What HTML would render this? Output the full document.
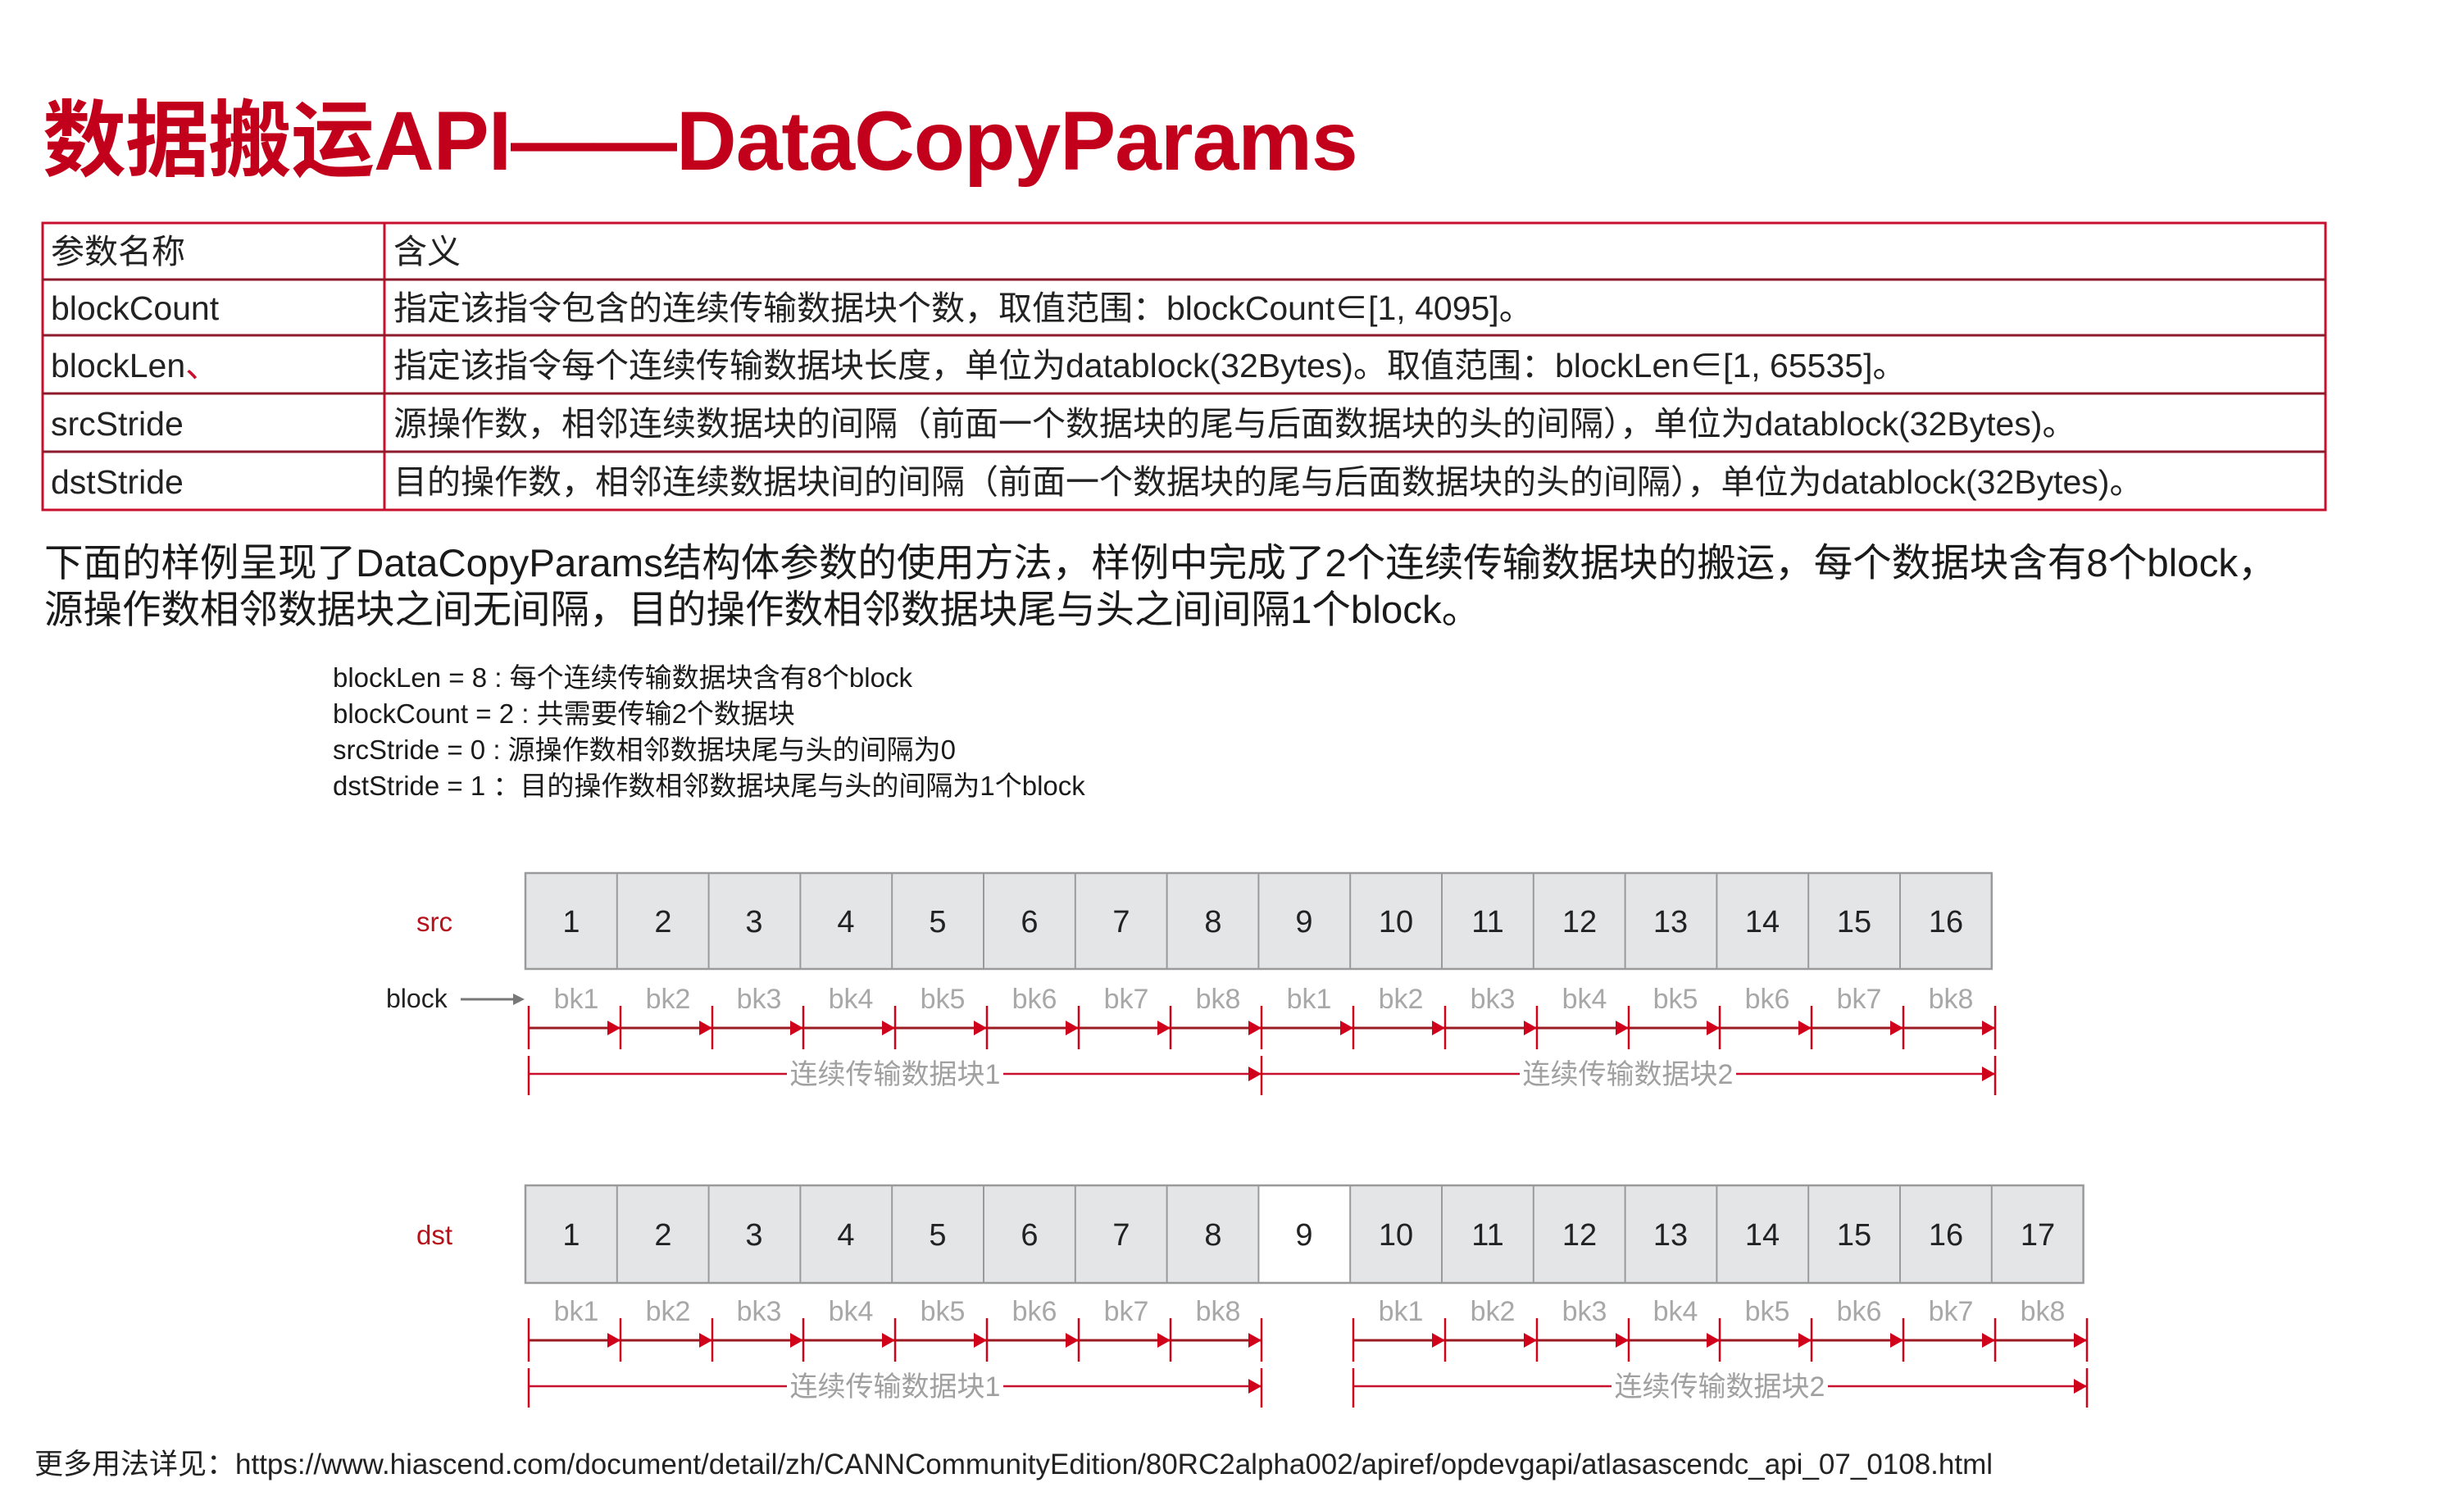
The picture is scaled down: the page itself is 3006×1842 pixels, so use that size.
<!DOCTYPE html>
<html><head><meta charset="utf-8"><style>
html,body{margin:0;padding:0;background:#fff;}
body{width:3006px;height:1842px;position:relative;overflow:hidden;font-family:"Liberation Sans","Noto Sans CJK SC",sans-serif;}
.t{position:absolute;white-space:nowrap;}
</style></head><body>
<div class="t" style="left:52px;top:90px;font-size:102px;font-weight:bold;color:#c3001b;letter-spacing:-1px;">数据搬运API——DataCopyParams</div>

<svg width="3006" height="1842" style="position:absolute;left:0;top:0" xmlns="http://www.w3.org/2000/svg" font-family="Liberation Sans, Noto Sans CJK SC, sans-serif">
<g stroke="#c8102e" stroke-width="3" fill="none">
<rect x="52" y="272" width="2785" height="350"/>
<line x1="469" y1="272" x2="469" y2="622"/>
</g>
<g stroke="#8e1a2c" stroke-width="3">
<line x1="52" y1="341" x2="2837" y2="341"/>
<line x1="52" y1="409" x2="2837" y2="409"/>
<line x1="52" y1="480" x2="2837" y2="480"/>
<line x1="52" y1="551" x2="2837" y2="551"/>
</g>
<g font-size="41" fill="#222">
<text x="62" y="321">参数名称</text><text x="480" y="321">含义</text>
<text x="62" y="390">blockCount</text><text x="480" y="390">指定该指令包含的连续传输数据块个数，取值范围：blockCount∈[1, 4095]。</text>
<text x="62" y="460">blockLen<tspan fill="#c8102e">、</tspan></text><text x="480" y="460">指定该指令每个连续传输数据块长度，单位为datablock(32Bytes)。取值范围：blockLen∈[1, 65535]。</text>
<text x="62" y="531">srcStride</text><text x="480" y="531">源操作数，相邻连续数据块的间隔（前面一个数据块的尾与后面数据块的头的间隔），单位为datablock(32Bytes)。</text>
<text x="62" y="602">dstStride</text><text x="480" y="602">目的操作数，相邻连续数据块间的间隔（前面一个数据块的尾与后面数据块的头的间隔），单位为datablock(32Bytes)。</text>
</g>
<g font-size="47.5" fill="#1a1a1a">
<text x="54" y="703">下面的样例呈现了DataCopyParams结构体参数的使用方法，样例中完成了2个连续传输数据块的搬运，每个数据块含有8个block，</text>
<text x="54" y="760">源操作数相邻数据块之间无间隔，目的操作数相邻数据块尾与头之间间隔1个block。</text>
</g>
<g font-size="33" fill="#1a1a1a">
<text x="406" y="838">blockLen = 8 : 每个连续传输数据块含有8个block</text>
<text x="406" y="882">blockCount = 2 : 共需要传输2个数据块</text>
<text x="406" y="926">srcStride = 0 : 源操作数相邻数据块尾与头的间隔为0</text>
<text x="406" y="970">dstStride = 1  ：目的操作数相邻数据块尾与头的间隔为1个block</text>
</g>

<text x="530" y="1136" font-size="33" fill="#b5121b" text-anchor="middle">src</text>
<text x="530" y="1518" font-size="33" fill="#b5121b" text-anchor="middle">dst</text>
<text x="471" y="1229" font-size="32" fill="#222">block</text>
<line x1="562" y1="1219" x2="628" y2="1219" stroke="#777" stroke-width="3"/>
<polygon points="640,1219 626,1212 626,1226" fill="#777"/>

<rect x="641" y="1065" width="1788.8" height="117" fill="#e4e5e7" stroke="#9a9a9a" stroke-width="2.5"/>
<g stroke="#9a9a9a" stroke-width="2">
<line x1="752.8" y1="1065" x2="752.8" y2="1182"/><line x1="864.6" y1="1065" x2="864.6" y2="1182"/><line x1="976.4" y1="1065" x2="976.4" y2="1182"/><line x1="1088.2" y1="1065" x2="1088.2" y2="1182"/><line x1="1200" y1="1065" x2="1200" y2="1182"/><line x1="1311.8" y1="1065" x2="1311.8" y2="1182"/><line x1="1423.6" y1="1065" x2="1423.6" y2="1182"/><line x1="1535.4" y1="1065" x2="1535.4" y2="1182"/><line x1="1647.2" y1="1065" x2="1647.2" y2="1182"/><line x1="1759" y1="1065" x2="1759" y2="1182"/><line x1="1870.8" y1="1065" x2="1870.8" y2="1182"/><line x1="1982.6" y1="1065" x2="1982.6" y2="1182"/><line x1="2094.4" y1="1065" x2="2094.4" y2="1182"/><line x1="2206.2" y1="1065" x2="2206.2" y2="1182"/><line x1="2318" y1="1065" x2="2318" y2="1182"/>
</g>
<g font-size="38" fill="#222" text-anchor="middle">
<text x="697" y="1137">1</text><text x="809" y="1137">2</text><text x="920" y="1137">3</text><text x="1032" y="1137">4</text><text x="1144" y="1137">5</text><text x="1256" y="1137">6</text><text x="1368" y="1137">7</text><text x="1480" y="1137">8</text><text x="1591" y="1137">9</text><text x="1703" y="1137">10</text><text x="1815" y="1137">11</text><text x="1927" y="1137">12</text><text x="2038" y="1137">13</text><text x="2150" y="1137">14</text><text x="2262" y="1137">15</text><text x="2374" y="1137">16</text>
</g>
<g font-size="34" fill="#a8a8a8" text-anchor="middle">
<text x="703" y="1230">bk1</text><text x="815" y="1230">bk2</text><text x="926" y="1230">bk3</text><text x="1038" y="1230">bk4</text><text x="1150" y="1230">bk5</text><text x="1262" y="1230">bk6</text><text x="1374" y="1230">bk7</text><text x="1486" y="1230">bk8</text><text x="1597" y="1230">bk1</text><text x="1709" y="1230">bk2</text><text x="1821" y="1230">bk3</text><text x="1933" y="1230">bk4</text><text x="2044" y="1230">bk5</text><text x="2156" y="1230">bk6</text><text x="2268" y="1230">bk7</text><text x="2380" y="1230">bk8</text>
</g>
<line x1="645" y1="1254" x2="2434" y2="1254" stroke="#9b1b22" stroke-width="3"/>
<g stroke="#d0021b" stroke-width="2.5">
<line x1="645" y1="1227" x2="645" y2="1280"/><line x1="757" y1="1227" x2="757" y2="1280"/><line x1="869" y1="1227" x2="869" y2="1280"/><line x1="980" y1="1227" x2="980" y2="1280"/><line x1="1092" y1="1227" x2="1092" y2="1280"/><line x1="1204" y1="1227" x2="1204" y2="1280"/><line x1="1316" y1="1227" x2="1316" y2="1280"/><line x1="1428" y1="1227" x2="1428" y2="1280"/><line x1="1539" y1="1227" x2="1539" y2="1280"/><line x1="1651" y1="1227" x2="1651" y2="1280"/><line x1="1763" y1="1227" x2="1763" y2="1280"/><line x1="1875" y1="1227" x2="1875" y2="1280"/><line x1="1987" y1="1227" x2="1987" y2="1280"/><line x1="2098" y1="1227" x2="2098" y2="1280"/><line x1="2210" y1="1227" x2="2210" y2="1280"/><line x1="2322" y1="1227" x2="2322" y2="1280"/><line x1="2434" y1="1227" x2="2434" y2="1280"/>
</g>
<g fill="#d0021b">
<polygon points="757,1254 741,1245 741,1263"/><polygon points="869,1254 853,1245 853,1263"/><polygon points="980,1254 964,1245 964,1263"/><polygon points="1092,1254 1076,1245 1076,1263"/><polygon points="1204,1254 1188,1245 1188,1263"/><polygon points="1316,1254 1300,1245 1300,1263"/><polygon points="1428,1254 1412,1245 1412,1263"/><polygon points="1539,1254 1523,1245 1523,1263"/><polygon points="1651,1254 1635,1245 1635,1263"/><polygon points="1763,1254 1747,1245 1747,1263"/><polygon points="1875,1254 1859,1245 1859,1263"/><polygon points="1987,1254 1971,1245 1971,1263"/><polygon points="2098,1254 2082,1245 2082,1263"/><polygon points="2210,1254 2194,1245 2194,1263"/><polygon points="2322,1254 2306,1245 2306,1263"/><polygon points="2434,1254 2418,1245 2418,1263"/>
</g>
<line x1="645" y1="1310" x2="2434" y2="1310" stroke="#c8102e" stroke-width="2.5"/>
<g stroke="#d0021b" stroke-width="2.5">
<line x1="645" y1="1288" x2="645" y2="1336"/><line x1="1539" y1="1288" x2="1539" y2="1336"/><line x1="2434" y1="1288" x2="2434" y2="1336"/>
</g>
<g fill="#d0021b"><polygon points="1539,1310 1523,1301 1523,1319"/><polygon points="2434,1310 2418,1301 2418,1319"/></g>
<rect x="960" y="1290" width="264" height="40" fill="#fff"/>
<rect x="1854" y="1290" width="264" height="40" fill="#fff"/>
<g font-size="34" fill="#a0a0a0" text-anchor="middle">
<text x="1092" y="1322">连续传输数据块1</text><text x="1986" y="1322">连续传输数据块2</text>
</g>

<rect x="641" y="1446" width="1900.6" height="119" fill="#e4e5e7" stroke="#9a9a9a" stroke-width="2.5"/>
<rect x="1535.4" y="1447.5" width="111.8" height="116" fill="#fff"/>
<g stroke="#9a9a9a" stroke-width="2">
<line x1="752.8" y1="1446" x2="752.8" y2="1565"/><line x1="864.6" y1="1446" x2="864.6" y2="1565"/><line x1="976.4" y1="1446" x2="976.4" y2="1565"/><line x1="1088.2" y1="1446" x2="1088.2" y2="1565"/><line x1="1200" y1="1446" x2="1200" y2="1565"/><line x1="1311.8" y1="1446" x2="1311.8" y2="1565"/><line x1="1423.6" y1="1446" x2="1423.6" y2="1565"/><line x1="1535.4" y1="1446" x2="1535.4" y2="1565"/><line x1="1647.2" y1="1446" x2="1647.2" y2="1565"/><line x1="1759" y1="1446" x2="1759" y2="1565"/><line x1="1870.8" y1="1446" x2="1870.8" y2="1565"/><line x1="1982.6" y1="1446" x2="1982.6" y2="1565"/><line x1="2094.4" y1="1446" x2="2094.4" y2="1565"/><line x1="2206.2" y1="1446" x2="2206.2" y2="1565"/><line x1="2318" y1="1446" x2="2318" y2="1565"/><line x1="2429.8" y1="1446" x2="2429.8" y2="1565"/>
</g>
<g font-size="38" fill="#222" text-anchor="middle">
<text x="697" y="1519">1</text><text x="809" y="1519">2</text><text x="920" y="1519">3</text><text x="1032" y="1519">4</text><text x="1144" y="1519">5</text><text x="1256" y="1519">6</text><text x="1368" y="1519">7</text><text x="1480" y="1519">8</text><text x="1591" y="1519">9</text><text x="1703" y="1519">10</text><text x="1815" y="1519">11</text><text x="1927" y="1519">12</text><text x="2038" y="1519">13</text><text x="2150" y="1519">14</text><text x="2262" y="1519">15</text><text x="2374" y="1519">16</text><text x="2486" y="1519">17</text>
</g>
<g font-size="34" fill="#a8a8a8" text-anchor="middle">
<text x="703" y="1611">bk1</text><text x="815" y="1611">bk2</text><text x="926" y="1611">bk3</text><text x="1038" y="1611">bk4</text><text x="1150" y="1611">bk5</text><text x="1262" y="1611">bk6</text><text x="1374" y="1611">bk7</text><text x="1486" y="1611">bk8</text><text x="1709" y="1611">bk1</text><text x="1821" y="1611">bk2</text><text x="1933" y="1611">bk3</text><text x="2044" y="1611">bk4</text><text x="2156" y="1611">bk5</text><text x="2268" y="1611">bk6</text><text x="2380" y="1611">bk7</text><text x="2492" y="1611">bk8</text>
</g>
<line x1="645" y1="1635" x2="1539" y2="1635" stroke="#9b1b22" stroke-width="3"/>
<line x1="1651" y1="1635" x2="2546" y2="1635" stroke="#9b1b22" stroke-width="3"/>
<g stroke="#d0021b" stroke-width="2.5">
<line x1="645" y1="1608" x2="645" y2="1661"/><line x1="757" y1="1608" x2="757" y2="1661"/><line x1="869" y1="1608" x2="869" y2="1661"/><line x1="980" y1="1608" x2="980" y2="1661"/><line x1="1092" y1="1608" x2="1092" y2="1661"/><line x1="1204" y1="1608" x2="1204" y2="1661"/><line x1="1316" y1="1608" x2="1316" y2="1661"/><line x1="1428" y1="1608" x2="1428" y2="1661"/><line x1="1539" y1="1608" x2="1539" y2="1661"/><line x1="1651" y1="1608" x2="1651" y2="1661"/><line x1="1763" y1="1608" x2="1763" y2="1661"/><line x1="1875" y1="1608" x2="1875" y2="1661"/><line x1="1987" y1="1608" x2="1987" y2="1661"/><line x1="2098" y1="1608" x2="2098" y2="1661"/><line x1="2210" y1="1608" x2="2210" y2="1661"/><line x1="2322" y1="1608" x2="2322" y2="1661"/><line x1="2434" y1="1608" x2="2434" y2="1661"/><line x1="2546" y1="1608" x2="2546" y2="1661"/>
</g>
<g fill="#d0021b">
<polygon points="757,1635 741,1626 741,1644"/><polygon points="869,1635 853,1626 853,1644"/><polygon points="980,1635 964,1626 964,1644"/><polygon points="1092,1635 1076,1626 1076,1644"/><polygon points="1204,1635 1188,1626 1188,1644"/><polygon points="1316,1635 1300,1626 1300,1644"/><polygon points="1428,1635 1412,1626 1412,1644"/><polygon points="1539,1635 1523,1626 1523,1644"/><polygon points="1763,1635 1747,1626 1747,1644"/><polygon points="1875,1635 1859,1626 1859,1644"/><polygon points="1987,1635 1971,1626 1971,1644"/><polygon points="2098,1635 2082,1626 2082,1644"/><polygon points="2210,1635 2194,1626 2194,1644"/><polygon points="2322,1635 2306,1626 2306,1644"/><polygon points="2434,1635 2418,1626 2418,1644"/><polygon points="2546,1635 2530,1626 2530,1644"/>
</g>
<line x1="645" y1="1691" x2="1539" y2="1691" stroke="#c8102e" stroke-width="2.5"/>
<line x1="1651" y1="1691" x2="2546" y2="1691" stroke="#c8102e" stroke-width="2.5"/>
<g stroke="#d0021b" stroke-width="2.5">
<line x1="645" y1="1669" x2="645" y2="1717"/><line x1="1539" y1="1669" x2="1539" y2="1717"/><line x1="1651" y1="1669" x2="1651" y2="1717"/><line x1="2546" y1="1669" x2="2546" y2="1717"/>
</g>
<g fill="#d0021b"><polygon points="1539,1691 1523,1682 1523,1700"/><polygon points="2546,1691 2530,1682 2530,1700"/></g>
<rect x="960" y="1671" width="264" height="40" fill="#fff"/>
<rect x="1966" y="1671" width="264" height="40" fill="#fff"/>
<g font-size="34" fill="#a0a0a0" text-anchor="middle">
<text x="1092" y="1703">连续传输数据块1</text><text x="2098" y="1703">连续传输数据块2</text>
</g>

<text x="42" y="1798" font-size="35" fill="#222">更多用法详见：https://www.hiascend.com/document/detail/zh/CANNCommunityEdition/80RC2alpha002/apiref/opdevgapi/atlasascendc_api_07_0108.html</text>
</svg>
</body></html>
